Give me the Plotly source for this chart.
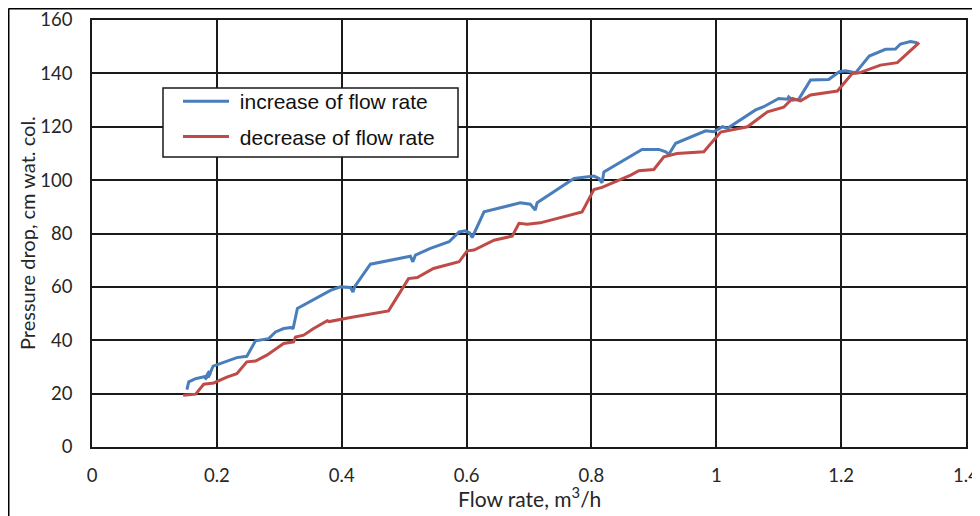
import plotly.graph_objects as go

# increase of flow rate (blue)
inc_x = [0.152, 0.155, 0.166, 0.176, 0.183, 0.188, 0.181, 0.190, 0.186, 0.194, 0.214, 0.232, 0.248,
         0.262, 0.283, 0.294, 0.307, 0.320, 0.322, 0.329, 0.382, 0.398, 0.414, 0.418, 0.421, 0.446,
         0.510, 0.514, 0.518, 0.542, 0.572, 0.588, 0.598, 0.605, 0.609, 0.628, 0.686, 0.702, 0.710,
         0.713, 0.772, 0.804, 0.812, 0.817, 0.820, 0.881, 0.908, 0.919, 0.924, 0.935, 0.983, 0.996,
         1.010, 1.018, 1.063, 1.076, 1.100, 1.114, 1.116, 1.122, 1.132, 1.151, 1.180, 1.197, 1.207,
         1.223, 1.245, 1.271, 1.287, 1.295, 1.311, 1.322]
inc_y = [21.5, 24.4, 25.6, 26.2, 26.5, 28.5, 25.3, 27.8, 26.0, 30.3, 31.9, 33.5, 34.0,
         39.8, 40.6, 43.1, 44.4, 44.8, 44.2, 51.9, 58.7, 60.0, 59.8, 58.1, 60.2, 68.5,
         71.5, 69.4, 71.9, 74.4, 76.9, 80.6, 81.0, 80.2, 78.5, 88.1, 91.5, 91.0, 88.8,
         91.5, 100.6, 101.5, 100.6, 99.0, 103.1, 111.5, 111.5, 110.6, 109.7, 113.8, 118.5, 118.1,
         120.0, 119.4, 126.3, 127.5, 130.6, 130.3, 131.2, 130.0, 130.3, 137.5, 137.7, 140.6, 141.0,
         140.2, 146.5, 149.0, 149.1, 151.0, 151.9, 151.5]

# decrease of flow rate (red)
dec_x = [0.146, 0.166, 0.179, 0.195, 0.216, 0.232, 0.248, 0.262, 0.280, 0.307, 0.323, 0.326, 0.339,
         0.355, 0.377, 0.380, 0.414, 0.475, 0.507, 0.521, 0.547, 0.588, 0.601, 0.612, 0.644, 0.673,
         0.684, 0.697, 0.718, 0.785, 0.804, 0.817, 0.863, 0.876, 0.900, 0.916, 0.937, 0.980, 1.007,
         1.023, 1.050, 1.082, 1.108, 1.122, 1.135, 1.151, 1.194, 1.218, 1.229, 1.263, 1.290, 1.325]
dec_y = [19.4, 19.8, 23.5, 24.0, 26.2, 27.5, 31.9, 32.2, 34.4, 38.8, 39.4, 41.2, 41.9,
         44.4, 47.3, 47.0, 48.5, 51.0, 63.1, 63.5, 66.9, 69.4, 73.5, 73.8, 77.5, 79.0,
         83.8, 83.5, 84.0, 88.1, 96.5, 97.3, 101.9, 103.5, 104.0, 108.7, 110.0, 110.6, 118.0,
         118.8, 120.0, 125.6, 127.3, 130.6, 129.7, 131.9, 133.4, 140.0, 140.2, 143.1, 144.0, 151.5]

series_names = ["increase of flow rate", "decrease of flow rate"]
x_ticks = [0, 0.2, 0.4, 0.6, 0.8, 1.0, 1.2, 1.4]
x_tick_text = ["0", "0.2", "0.4", "0.6", "0.8", "1", "1.2", "1.4"]
y_ticks = [0, 20, 40, 60, 80, 100, 120, 140, 160]
x_title = "Flow rate, m<sup>3</sup>/h"
y_title = "Pressure drop, cm wat. col."

# the page body adds an 8px offset; layout works in screen pixels minus that offset
OFF = 8
W, H = 980, 516
ML, MT = 92 - OFF, 20 - OFF
MR, MB = W - (966 - OFF), H - (447 - OFF)
PW, PH = W - ML - MR, H - MT - MB


def px_x(screen):
    return (screen - OFF - ML) / PW


def px_y(screen):
    return 1 - (screen - OFF - MT) / PH


fig = go.Figure()
fig.add_trace(go.Scatter(x=inc_x, y=inc_y, mode="lines", name="\u00a0" + series_names[0],
                         line=dict(color="#4A7EBB", width=3), legendgroup="a"))
fig.add_trace(go.Scatter(x=dec_x, y=dec_y, mode="lines", name="\u00a0" + series_names[1],
                         line=dict(color="#BE4B48", width=3), legendgroup="b"))

lato = "Lato, Open Sans, sans-serif"
tick_font = dict(family=lato, size=18.5, color="#262626")

fig.update_layout(
    width=W, height=H,
    margin=dict(l=ML, r=MR, t=MT, b=MB, autoexpand=False),
    paper_bgcolor="white", plot_bgcolor="white",
    showlegend=True,
    legend=dict(x=px_x(178), y=px_y(81), xanchor="left", yanchor="top",
                bgcolor="rgba(0,0,0,0)", borderwidth=0,
                font=dict(family="Liberation Sans, Arial, sans-serif", size=21, color="#111111"),
                tracegroupgap=5, traceorder="grouped", itemwidth=46),
    xaxis=dict(range=[0, 1.4], tickvals=x_ticks, ticktext=x_tick_text, automargin=False,
               showgrid=True, gridcolor="#1a1a1a", gridwidth=1.5,
               showline=True, linecolor="#1a1a1a", linewidth=1.5, mirror=True,
               zeroline=False, ticks="", tickfont=tick_font, ticklabelstandoff=11),
    yaxis=dict(range=[0, 160], tickvals=y_ticks, automargin=False,
               showgrid=True, gridcolor="#1a1a1a", gridwidth=1.5,
               showline=True, linecolor="#1a1a1a", linewidth=1.5, mirror=True,
               zeroline=False, ticks="", tickfont=tick_font, ticklabelstandoff=14),
)

# axis titles
fig.add_annotation(text=x_title, xref="paper", yref="paper", x=px_x(529), y=px_y(497),
                   xanchor="center", yanchor="middle", showarrow=False,
                   font=dict(family=lato, size=21, color="#262626"))
fig.add_annotation(text=y_title, xref="paper", yref="paper", x=px_x(27), y=px_y(233),
                   xanchor="center", yanchor="middle", showarrow=False, textangle=-90,
                   font=dict(family=lato, size=20, color="#262626"))

# legend box (covers grid like the reference)
fig.add_shape(type="rect", xref="paper", yref="paper", layer="above",
              x0=px_x(163), x1=px_x(458), y0=px_y(157), y1=px_y(88),
              fillcolor="white", line=dict(color="#1a1a1a", width=1.5))

# outer frame (left and top edges visible)
fig.add_shape(type="line", xref="paper", yref="paper", x0=px_x(8.5), x1=px_x(1000), y0=px_y(8.5), y1=px_y(8.5),
              line=dict(color="black", width=2))
fig.add_shape(type="line", xref="paper", yref="paper", x0=px_x(8.5), x1=px_x(8.5), y0=px_y(530), y1=px_y(8.5),
              line=dict(color="black", width=2))

fig.write_html("out.html")
